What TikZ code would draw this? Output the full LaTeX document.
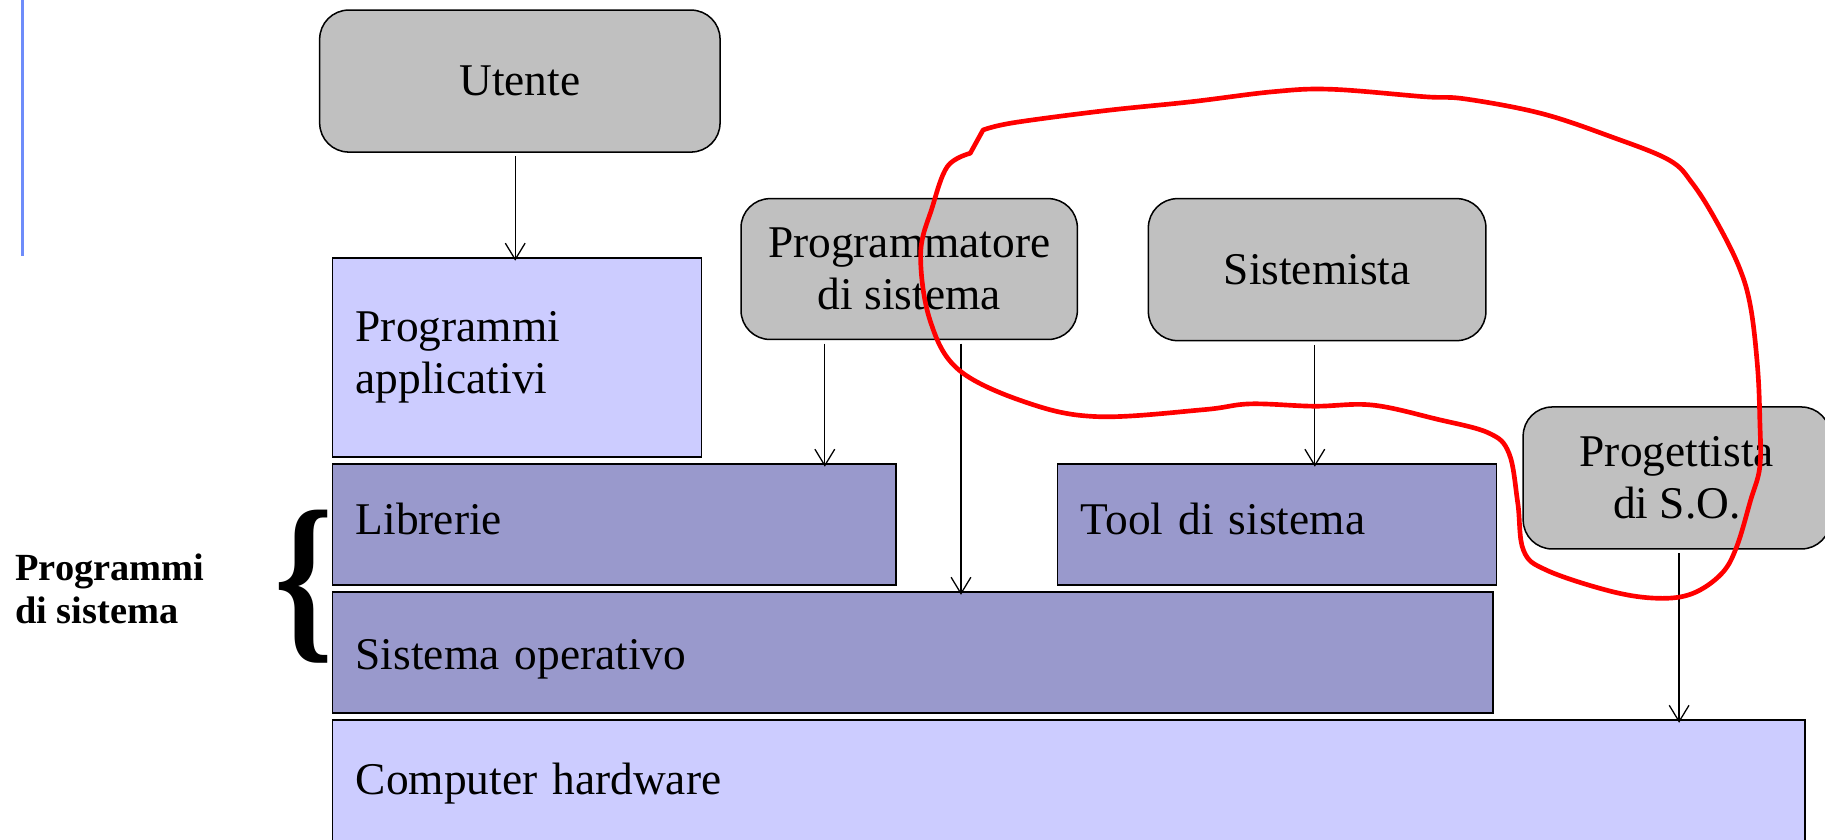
\documentclass[tikz,border=0pt]{standalone}
\usepackage{fontspec}
\setmainfont{Liberation Serif}
\usetikzlibrary{arrows.meta}

\definecolor{actorgray}{RGB}{192,192,192}
\definecolor{layerlight}{RGB}{204,204,255}
\definecolor{layerdark}{RGB}{153,153,204}
\definecolor{slideblue}{RGB}{110,140,250}

\begin{document}
\begin{tikzpicture}[x=1pt,y=-1pt,
  actor/.style={draw, line width=1.3pt, fill=actorgray, rounded corners=25pt,
    anchor=north west, align=center, inner sep=0pt,
    font=\fontsize{39}{45}\selectfont},
  layer/.style={draw, line width=1.3pt, anchor=north west, align=left,
    inner xsep=20pt, inner ysep=0pt, font=\fontsize{39}{45}\selectfont},
  arr/.style={line width=1.1pt, -{Straight Barb[length=14pt,width=17pt]},
    shorten <=3pt, shorten >=-3pt}]
\clip (0,0) rectangle (1568,721);

% slide margin line
\draw [slideblue, line width=2.5pt] (19,0) -- (19,220);

% actors
\node[actor, minimum width=344pt, minimum height=122pt] (ute) at (274,8) {Utente};
\node[actor, minimum width=289pt, minimum height=121pt] (prog) at (636,170) {Programmatore\\di sistema};
\node[actor, minimum width=290pt, minimum height=122pt] (sist) at (986,170) {Sistemista};
\node[actor, minimum width=264pt, minimum height=122pt] (proj) at (1308,349) {Progettista\\di S.O.};

% layers
\node[layer, fill=layerlight, text width=277pt, minimum height=171pt] (app) at (285,221) {Programmi\\applicativi};
\node[layer, fill=layerdark, text width=444pt, minimum height=104pt, text depth=10pt] (lib) at (285,398) {Librerie};
\node[layer, fill=layerdark, text width=337pt, minimum height=104pt, text depth=10pt] (tool) at (908,398) {Tool di sistema};
\node[layer, fill=layerdark, text width=957pt, minimum height=104pt, text height=37pt] (os) at (285,508) {Sistema operativo};
\node[layer, fill=layerlight, text width=1225pt, minimum height=110pt] (hw) at (285,618) {Computer hardware};

% brace and its label
\node[anchor=base west, inner sep=0pt] (brace) at (236,548.6) {\scalebox{0.81}[1]{\fontsize{159}{159}\selectfont\bfseries\{}};
\node[anchor=west, align=left, inner sep=0pt, font=\bfseries\fontsize{33}{37}\selectfont] (sysprog) at (12.9,506) {Programmi\\di sistema};

% arrows
\draw[arr] ([xshift=-4pt]ute.south) -- ([xshift=-4pt]ute.south |- app.north);
\draw[arr] ([xshift=-72.5pt]prog.south) -- ([xshift=-72.5pt]prog.south |- lib.north);
\draw[arr] ([xshift=44.5pt]prog.south) -- ([xshift=44.5pt]prog.south |- os.north);
\draw[arr] ([xshift=-2pt]sist.south) -- ([xshift=-2pt]sist.south |- tool.north);
\draw[arr] ([xshift=2pt]proj.south) -- ([xshift=2pt]proj.south |- hw.north);

% freehand red loop
\draw [red, line width=4pt, line join=round, line cap=round]
  plot [smooth, tension=0.6] coordinates {(844.6,111.7) (871,105.4) (950,95) (1023.7,87.4)
  (1093.8,78.8) (1143.9,76.7) (1223.9,83.1) (1259,85) (1324,97.4) (1384,117.4) (1434,137.5)
  (1454,157.5) (1474,189) (1494,229) (1504,263.5) (1510,315) (1512,361) (1512,401) (1504,430)
  (1492,470) (1479,493) (1454,510) (1424,514) (1384,508) (1329,490) (1309,473) (1304,432)
  (1296.5,389.5) (1279,372) (1234,360) (1179,348) (1129,349) (1074,347) (1034,352) (944,358)
  (884,346.5) (824,318) (799,275) (791,218) (801,178) (814,143) (833.6,131.7)}
  -- (844.6,111.7);
\end{tikzpicture}
\end{document}
